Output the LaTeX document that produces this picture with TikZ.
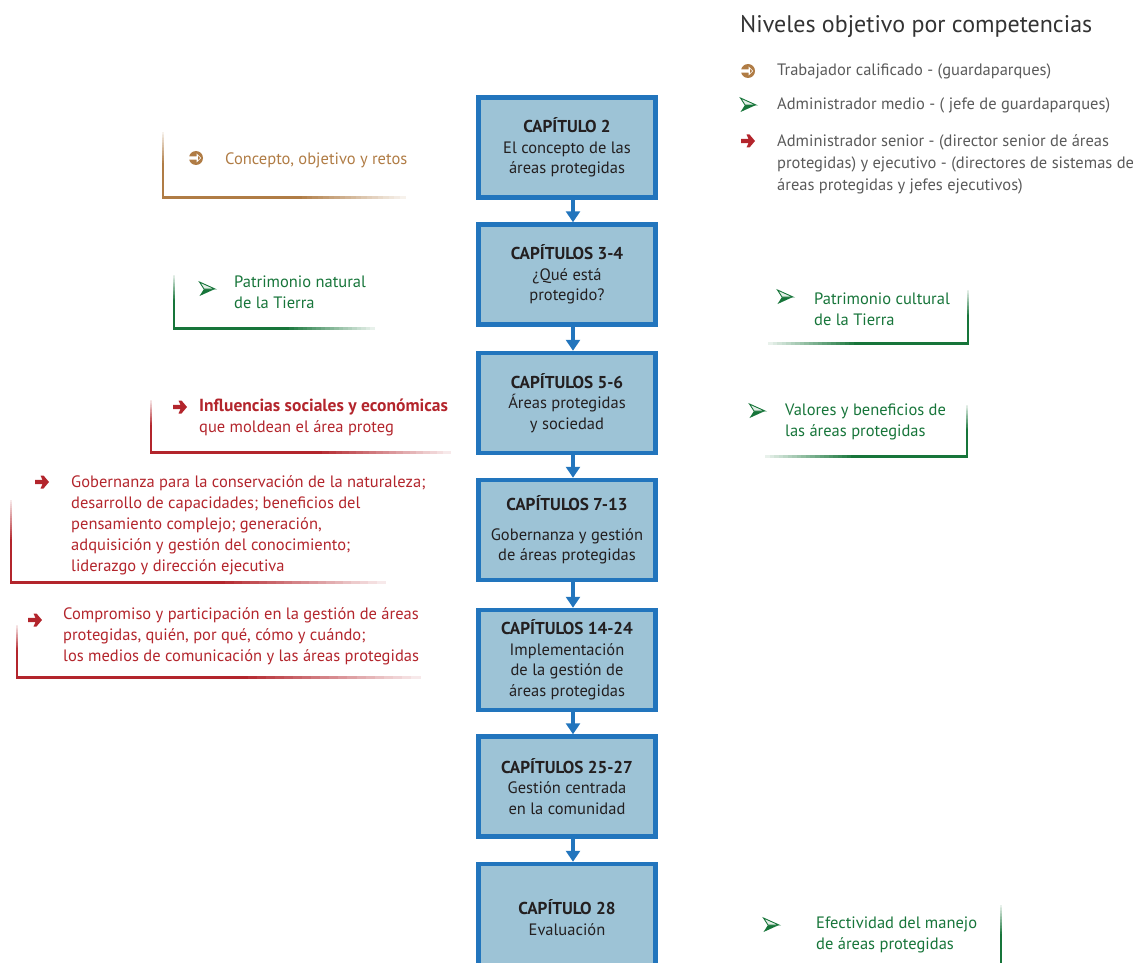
\documentclass[tikz,border=0pt]{standalone}
\usepackage{fontspec}
\setmainfont{PT Sans}
\usetikzlibrary{arrows.meta}
\definecolor{boxfill}{HTML}{9DC3D6}
\definecolor{boxline}{HTML}{2275BD}
\definecolor{brownc}{HTML}{B07C45}
\definecolor{greenc}{HTML}{17753A}
\definecolor{redc}{HTML}{B3252C}
\definecolor{graytext}{HTML}{5A5A5A}
\definecolor{titletext}{HTML}{333333}
\definecolor{boxtext}{HTML}{231F20}
% horizontal fade: colour, x solid, x faded, y
\newcommand\hfadeline[4]{%
  \foreach \i in {0,...,19}{%
    \pgfmathtruncatemacro\p{100-4.7*\i}%
    \fill[#1!\p!white] ({(#2)+((#3)-(#2))*\i/20},{(#4)-1.5}) rectangle ({(#2)+((#3)-(#2))*(\i+1.1)/20},{(#4)+1.5});
  }}
% vertical fade: colour, x, y solid, y faded
\newcommand\vfadeline[4]{%
  \foreach \i in {0,...,19}{%
    \pgfmathtruncatemacro\p{100-4.7*\i}%
    \fill[#1!\p!white] ({(#2)-1.3},{(#3)+((#4)-(#3))*\i/20}) rectangle ({(#2)+1.3},{(#3)+((#4)-(#3))*(\i+1.1)/20});
  }}
% left bracket: colour, x, ytop, ybottom, xright
\newcommand\leftbrk[5]{%
  \pgfmathsetmacro\ymid{#3+0.5*(#4-#3)}%
  \pgfmathsetmacro\xmid{#2+0.55*(#5-#2)}%
  \vfadeline{#1}{#2}{\ymid}{#3}
  \fill[#1] ({#2-1.3},\ymid) rectangle ({#2+1.3},{#4+1.5});
  \fill[#1] ({#2-1.3},{#4-1.5}) rectangle (\xmid,{#4+1.5});
  \hfadeline{#1}{\xmid}{#5}{#4}
}
% right bracket: colour, x, ytop, ybottom, xleft
\newcommand\rightbrk[5]{%
  \pgfmathsetmacro\ymid{#3+0.5*(#4-#3)}%
  \pgfmathsetmacro\xmid{#5+0.45*(#2-#5)}%
  \vfadeline{#1}{#2}{\ymid}{#3}
  \fill[#1] ({#2-1.3},\ymid) rectangle ({#2+1.3},{#4+1.5});
  \fill[#1] (\xmid,{#4-1.5}) rectangle ({#2+1.3},{#4+1.5});
  \hfadeline{#1}{\xmid}{#5}{#4}
}
\newcommand\chead[1]{{\fontsize{17.2}{20.5}\selectfont\bfseries #1}}
\tikzset{
  brownsym/.pic={
    \fill[brownc] (0,0) circle[radius=7];
    \fill[white] (-7.5,-1.6) -- (0.5,-1.6) -- (0.5,-4.5) -- (5.2,0) -- (0.5,4.5) -- (0.5,1.6) -- (-7.5,1.6) -- cycle;
    \fill[brownc] (2.2,-1.8) -- (4.0,0) -- (2.2,1.8) -- cycle;
  },
  greensym/.pic={
    \fill[greenc] (-7.5,7) -- (8,0) -- (-3,0) -- cycle;
    \filldraw[fill=greenc!12, draw=greenc, line width=0.9pt, line join=miter] (-7.5,-7) -- (8,0) -- (-3,0) -- cycle;
  },
  redsym/.pic={
    \fill[redc] (-7,-2.1) -- (0.5,-2.1) -- (-1.5,-6.5) -- (1.5,-6.5) -- (7,0) -- (1.5,6.5) -- (-1.5,6.5) -- (0.5,2.1) -- (-7,2.1) -- cycle;
  }
}
\begin{document}
\begin{tikzpicture}[x=1pt,y=-1pt,
  chapbox/.style={draw=boxline, line width=4.5pt, fill=boxfill, minimum width=177pt,
    minimum height=100pt, align=center, text=boxtext, inner sep=0pt,
    font=\fontsize{16.5}{20.5}\selectfont},
  flow/.style={draw=boxline, line width=4pt, -{Triangle[width=14pt,length=11pt]}},
  lbl/.style={anchor=west, align=left, inner sep=0pt, font=\fontsize{16.5}{21}\selectfont},
  legtext/.style={lbl, text=graytext, font=\fontsize{16.5}{22}\selectfont}
]
\useasboundingbox (0,0) rectangle (1141,963);
\clip (0,0) rectangle (1141,963);

% legend
\node[anchor=west, inner sep=0pt, text=titletext, font=\fontsize{24}{26}\selectfont] (title) at (740,27) {Niveles objetivo por competencias};
\pic at (748,71) {brownsym};
\node[legtext] (lt1) at (777,71) {Trabajador calificado - (guardaparques)};
\pic at (748,105) {greensym};
\node[legtext] (lt2) at (777,105) {Administrador medio - ( jefe de guardaparques)};
\pic at (748,141) {redsym};
\node[legtext] (lt3) at (777,164) {Administrador senior - (director senior de áreas\\protegidas) y ejecutivo - (directores de sistemas de\\áreas protegidas y jefes ejecutivos)};

% chapter boxes
\node[chapbox] (b1) at (567,147.5) {\chead{CAPÍTULO 2}\\El concepto de las\\áreas protegidas};
\node[chapbox] (b2) at (567,274.5) {\chead{CAPÍTULOS 3-4}\\¿Qué está\\protegido?};
\node[chapbox] (b3) at (567,403) {\chead{CAPÍTULOS 5-6}\\Áreas protegidas\\y sociedad};
\node[chapbox] (b4) at (567,530) {\chead{CAPÍTULOS 7-13}\\[9pt]Gobernanza y gestión\\de áreas protegidas};
\node[chapbox] (b5) at (567,660) {\chead{CAPÍTULOS 14-24}\\Implementación\\de la gestión de\\áreas protegidas};
\node[chapbox] (b6) at (567,786.5) {\chead{CAPÍTULOS 25-27}\\Gestión centrada\\en la comunidad};
\node[chapbox, minimum height=107pt] (b7) at (567,917.5) {\chead{CAPÍTULO 28}\\Evaluación};

\draw[flow] ([xshift=6pt]b1.south) -- ([xshift=6pt]b2.north);
\draw[flow] ([xshift=6pt]b2.south) -- ([xshift=6pt]b3.north);
\draw[flow] ([xshift=6pt]b3.south) -- ([xshift=6pt]b4.north);
\draw[flow] ([xshift=6pt]b4.south) -- ([xshift=6pt]b5.north);
\draw[flow] ([xshift=6pt]b5.south) -- ([xshift=6pt]b6.north);
\draw[flow] ([xshift=6pt]b6.south) -- ([xshift=6pt]b7.north);

% brackets
\leftbrk{brownc}{163}{132}{197}{405}
\leftbrk{greenc}{174}{275}{328}{375}
\rightbrk{greenc}{968}{290}{343}{768}
\leftbrk{redc}{151}{400}{452}{450}
\rightbrk{greenc}{967}{405}{456}{765}
\leftbrk{redc}{11}{500}{582}{385}
\leftbrk{redc}{17}{625}{677}{420}
\vfadeline{greenc}{1001}{935}{905}
\fill[greenc] (999.7,935) rectangle (1002.3,970);

% bracket texts
\pic at (196,158) {brownsym};
\node[lbl, text=brownc] (t1) at (225,160) {Concepto, objetivo y retos};
\pic at (207,289) {greensym};
\node[lbl, text=greenc] (t2) at (234,292) {Patrimonio natural\\de la Tierra};
\pic at (785,297) {greensym};
\node[lbl, text=greenc] (t3) at (814,309.5) {Patrimonio cultural\\de la Tierra};
\pic at (180,407) {redsym};
\node[lbl, text=redc] (t4) at (199,417.5) {{\fontsize{17.5}{21}\selectfont\bfseries Influencias sociales y económicas}\\que moldean el área proteg};
\pic at (757,411) {greensym};
\node[lbl, text=greenc] (t5) at (785,421.5) {Valores y beneficios de\\las áreas protegidas};
\pic at (42,482) {redsym};
\node[lbl, text=redc] (t6) at (71,525) {Gobernanza para la conservación de la naturaleza;\\desarrollo de capacidades; beneficios del\\pensamiento complejo; generación,\\adquisición y gestión del conocimiento;\\liderazgo y dirección ejecutiva};
\pic at (35,620) {redsym};
\node[lbl, text=redc] (t7) at (63,636.5) {Compromiso y participación en la gestión de áreas\\protegidas, quién, por qué, cómo y cuándo;\\los medios de comunicación y las áreas protegidas};
\pic at (771,925) {greensym};
\node[lbl, text=greenc] (t8) at (816,934.5) {Efectividad del manejo\\de áreas protegidas};
\end{tikzpicture}
\end{document}
